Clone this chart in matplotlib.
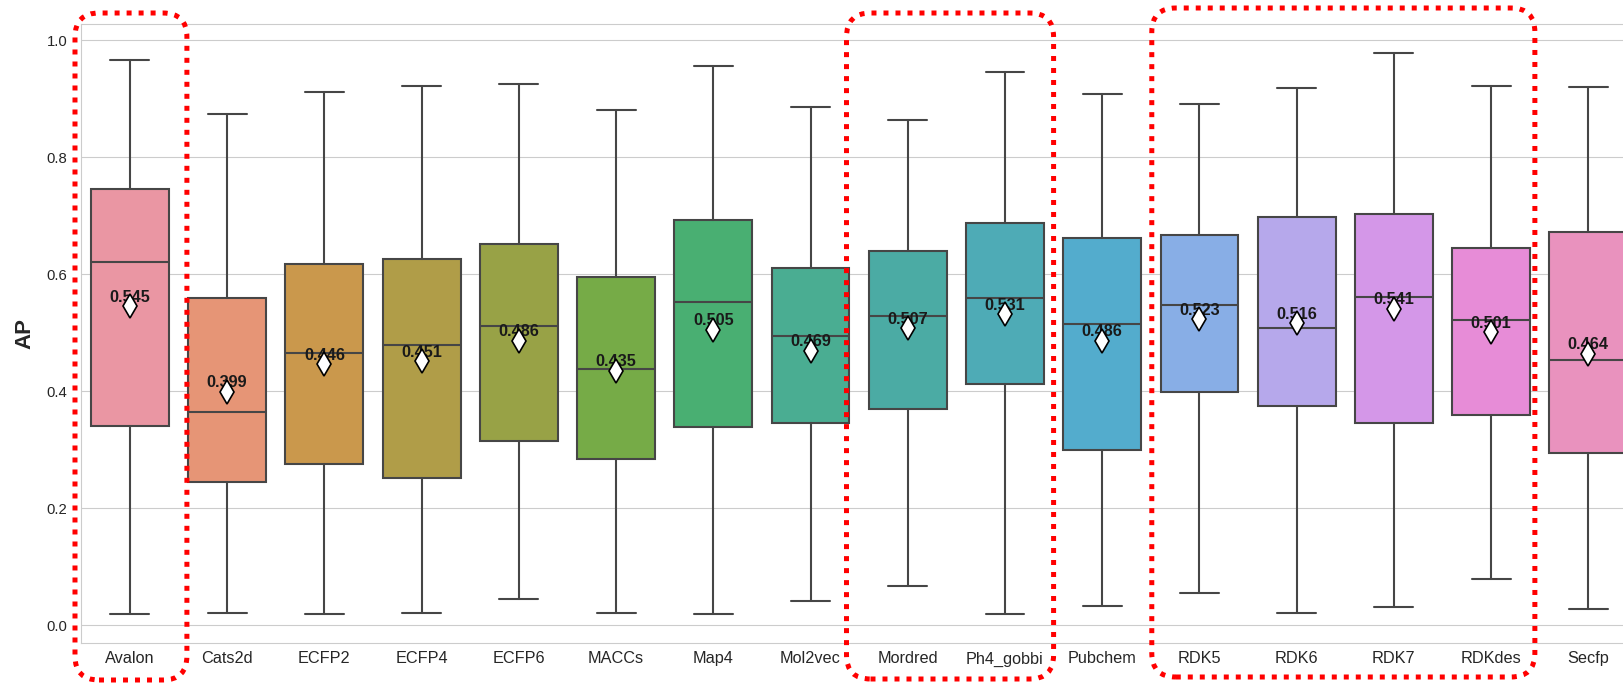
import colorsys
import numpy as np
import matplotlib
matplotlib.use("Agg")
import matplotlib.pyplot as plt
import seaborn as sns
from matplotlib.patches import FancyBboxPatch
from matplotlib.transforms import IdentityTransform

# fingerprints / descriptors
names = ["Avalon", "Cats2d", "ECFP2", "ECFP4", "ECFP6", "MACCs", "Map4", "Mol2vec",
         "Mordred", "Ph4_gobbi", "Pubchem", "RDK5", "RDK6", "RDK7", "RDKdes", "Secfp"]

# box statistics (AP)
whislo = [0.019, 0.021, 0.018, 0.021, 0.044, 0.020, 0.019, 0.041,
          0.066, 0.018, 0.032, 0.054, 0.021, 0.030, 0.078, 0.028]
q1 = [0.341, 0.245, 0.275, 0.251, 0.315, 0.283, 0.338, 0.346,
      0.370, 0.412, 0.300, 0.398, 0.375, 0.346, 0.359, 0.294]
med = [0.620, 0.364, 0.465, 0.478, 0.511, 0.437, 0.553, 0.494,
       0.528, 0.559, 0.515, 0.547, 0.507, 0.561, 0.521, 0.453]
q3 = [0.746, 0.559, 0.617, 0.626, 0.651, 0.595, 0.692, 0.610,
      0.640, 0.688, 0.661, 0.667, 0.698, 0.702, 0.644, 0.671]
whishi = [0.966, 0.874, 0.911, 0.922, 0.925, 0.880, 0.956, 0.885,
          0.864, 0.946, 0.907, 0.890, 0.918, 0.978, 0.922, 0.919]
means = [0.545, 0.399, 0.446, 0.451, 0.486, 0.435, 0.505, 0.469,
         0.507, 0.531, 0.486, 0.523, 0.516, 0.541, 0.501, 0.464]

# highlighted groups: (x left, x right) in category units, (top, bottom) in pixels from top
groups = [(-0.565, 0.586, 13, 680), (7.37, 9.50, 13, 679), (10.51, 14.45, 8, 677)]

sns.set_style("whitegrid")
plt.rcParams['font.family'] = ['Liberation Sans', 'DejaVu Sans']

W, H = 1623, 684
fig = plt.figure(figsize=(W / 100, H / 100), dpi=100)
ax = fig.add_axes([0.0501, 0.0599, 0.9585, 0.905])

colors = [sns.desaturate(c, 0.75) for c in sns.husl_palette(len(names), l=.7)]
lum = min(colorsys.rgb_to_hls(*c)[1] for c in colors) * .6
gray = (lum, lum, lum)

stats = []
for i, n in enumerate(names):
    stats.append(dict(label=n, whislo=whislo[i], q1=q1[i], med=med[i], q3=q3[i],
                      whishi=whishi[i], mean=means[i], fliers=[]))

bp = ax.bxp(stats, positions=np.arange(len(names)), widths=0.8, capwidths=0.4,
            showmeans=True, patch_artist=True,
            boxprops=dict(edgecolor=gray, linewidth=1.5),
            whiskerprops=dict(color=gray, linewidth=1.5),
            capprops=dict(color=gray, linewidth=1.5),
            medianprops=dict(color=gray, linewidth=1.5),
            meanprops=dict(marker='d', markerfacecolor='white', markeredgecolor='black',
                           markersize=12, markeredgewidth=1.2, zorder=5))
for patch, c in zip(bp['boxes'], colors):
    patch.set_facecolor(c)

for i, m in enumerate(means):
    ax.text(i, m + 0.015, f"{m:.3f}", ha='center', va='center', fontweight='bold',
            fontsize=11.7, color='#1a1a1a', zorder=4)

ax.set_xlim(-0.5, len(names) - 0.5)
ax.set_ylim(-0.0308, 1.0274)
ax.set_yticks([0.0, 0.2, 0.4, 0.6, 0.8, 1.0])
ax.xaxis.grid(False)
ax.tick_params(axis='x', labelsize=11.7, pad=6, length=0)
ax.tick_params(axis='y', labelsize=10.7, pad=10, length=0)
ax.set_ylabel("AP", fontsize=16, fontweight='bold', labelpad=8)

# red dotted rounded frames
for x0, x1, ytop, ybot in groups:
    px0 = ax.transData.transform((x0, 0))[0]
    px1 = ax.transData.transform((x1, 0))[0]
    frame = FancyBboxPatch((px0, H - ybot), px1 - px0, ybot - ytop,
                           boxstyle="round,pad=0,rounding_size=24",
                           transform=IdentityTransform(), fill=False, edgecolor='red',
                           linewidth=3.6, linestyle=(0, (1, 1.4)), clip_on=False, zorder=10)
    fig.add_artist(frame)

fig.savefig("out.png", dpi=100)
